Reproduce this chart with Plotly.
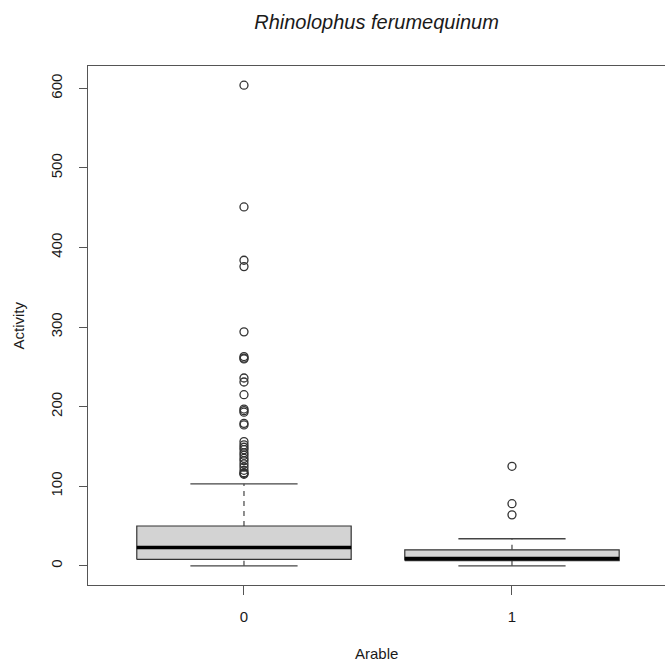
import plotly.graph_objects as go

# ---- data ----
groups = ["0", "1"]
positions = [1, 2]
q1 = [8, 6.5]
median = [23, 9]
q3 = [50, 20]
lower_whisker = [0, 0]
upper_whisker = [103, 34]
outliers_0 = [604, 451, 384, 376, 294, 263, 261, 260, 236, 231, 215, 197, 195, 193,
              179, 177, 156, 152, 149, 146, 142, 139, 135, 132, 128, 124, 120, 117, 116, 115]
outliers_1 = [125, 78, 64]
outliers = [outliers_0, outliers_1]
y_ticks = [0, 100, 200, 300, 400, 500, 600]

BOX_HALF = 0.4
CAP_HALF = 0.2
LINE_COL = "#444"
FONT = "Liberation Sans, Arial, Helvetica, sans-serif"

fig = go.Figure()

for i, g in enumerate(groups):
    x = positions[i]
    # whiskers (dashed)
    fig.add_trace(go.Scatter(x=[x, x], y=[q3[i], upper_whisker[i]], mode="lines",
                             line=dict(color=LINE_COL, width=1.2, dash="5px,5px"),
                             hoverinfo="skip", showlegend=False))
    fig.add_trace(go.Scatter(x=[x, x], y=[lower_whisker[i], q1[i]], mode="lines",
                             line=dict(color=LINE_COL, width=1.2, dash="5px,5px"),
                             hoverinfo="skip", showlegend=False))
    # caps
    for v in (upper_whisker[i], lower_whisker[i]):
        fig.add_trace(go.Scatter(x=[x - CAP_HALF, x + CAP_HALF], y=[v, v], mode="lines",
                                 line=dict(color=LINE_COL, width=1.3),
                                 hoverinfo="skip", showlegend=False))
    # box
    fig.add_trace(go.Scatter(
        x=[x - BOX_HALF, x + BOX_HALF, x + BOX_HALF, x - BOX_HALF, x - BOX_HALF],
        y=[q1[i], q1[i], q3[i], q3[i], q1[i]],
        mode="lines", fill="toself", fillcolor="#d3d3d3",
        line=dict(color="#333", width=1.2), hoverinfo="skip", showlegend=False))
    # median
    fig.add_trace(go.Scatter(x=[x - BOX_HALF, x + BOX_HALF], y=[median[i], median[i]],
                             mode="lines", line=dict(color="black", width=3.5),
                             hoverinfo="skip", showlegend=False))
    # outliers
    fig.add_trace(go.Scatter(x=[x] * len(outliers[i]), y=outliers[i], mode="markers",
                             marker=dict(symbol="circle-open", size=8,
                                         line=dict(color="#333", width=1.3), color="#333"),
                             showlegend=False))

fig.update_layout(
    width=665, height=663,
    margin=dict(l=88, r=0, t=66, b=78),
    paper_bgcolor="white", plot_bgcolor="white",
    font=dict(family=FONT, size=15, color="#1a1a1a"),
    title=dict(text="<i>Rhinolophus ferumequinum</i>", x=0.5, xref="paper",
               y=1 - 22 / 663, yref="container", xanchor="center", yanchor="middle",
               font=dict(family=FONT, size=20, color="#1a1a1a")),
    xaxis=dict(range=[0.418, 0.418 + 577 / 268], tickvals=positions, ticktext=groups,
               showgrid=False, zeroline=False, showline=True, mirror=True,
               linecolor="#555", linewidth=1.3, ticks="outside", ticklen=9,
               tickcolor="#555", tickwidth=1.3, ticklabelstandoff=9),
    yaxis=dict(range=[-24.16, 628.16], tickvals=y_ticks,
               showgrid=False, zeroline=False, showline=True, mirror=False,
               linecolor="#555", linewidth=1.3, ticks="outside", ticklen=8,
               tickcolor="#555", tickwidth=1.3, tickangle=-90, ticklabelstandoff=11),
    annotations=[
        dict(text="Arable", x=0.5, y=0, xref="paper", yref="paper", showarrow=False,
             xanchor="center", yanchor="middle", yshift=-68.5, font=dict(size=15)),
        dict(text="Activity", x=0, y=0.5, xref="paper", yref="paper", showarrow=False,
             xanchor="center", yanchor="middle", xshift=-70, textangle=-90,
             font=dict(size=15)),
    ],
)

fig.write_html("out.html")
